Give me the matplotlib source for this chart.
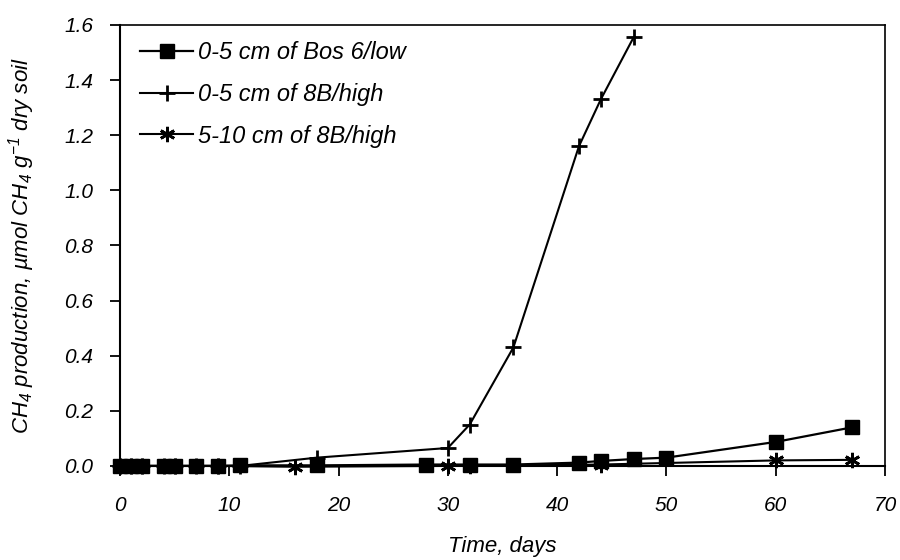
import matplotlib.pyplot as plt

plt.rcParams['font.family'] = ['Liberation Sans', 'DejaVu Sans']
plt.rcParams['font.style'] = 'italic'
plt.rcParams['mathtext.fontset'] = 'custom'
plt.rcParams['mathtext.it'] = 'Liberation Sans:italic'
plt.rcParams['mathtext.rm'] = 'Liberation Sans:italic'

# 0-5 cm of Bos 6/low
bos_days = [0, 1, 2, 4, 5, 7, 9, 11, 18, 28, 32, 36, 42, 44, 47, 50, 60, 67]
bos_ch4 = [0, 0, 0, 0, 0, 0, 0, 0.002, 0.002, 0.005, 0.005, 0.005, 0.012, 0.018, 0.025, 0.03, 0.087, 0.14]

# 0-5 cm of 8B/high
hi_days = [0, 1, 2, 4, 5, 7, 9, 11, 18, 30, 32, 36, 42, 44, 47]
hi_ch4 = [0, 0, 0, 0, 0, 0, 0, 0, 0.03, 0.065, 0.15, 0.43, 1.16, 1.33, 1.555]

# 5-10 cm of 8B/high
deep_days = [0, 1, 2, 5, 9, 16, 30, 32, 44, 60, 67]
deep_ch4 = [0, 0, 0, 0, 0, -0.003, 0, 0, 0.005, 0.02, 0.022]

fig = plt.figure(figsize=(9, 5.6), dpi=100)
ax = fig.add_axes([0.1333, 0.168, 0.85, 0.7875])

ax.plot(bos_days, bos_ch4, color='black', lw=1.6, marker='s', ms=9.5,
        label='0-5 cm of Bos 6/low', clip_on=False, zorder=3)
ax.plot(hi_days, hi_ch4, color='black', lw=1.5, marker='+', ms=12, mew=2,
        label='0-5 cm of 8B/high', clip_on=False, zorder=3)
ax.plot(deep_days, deep_ch4, color='black', lw=1.5, marker=(6, 2, 0), ms=11, mew=2,
        label='5-10 cm of 8B/high', clip_on=False, zorder=3)

ax.set_xlim(0, 70)
ax.set_ylim(0, 1.6)
ax.set_xticks(range(0, 71, 10))
ax.set_yticks([i * 0.2 for i in range(9)])
ax.set_yticklabels(['%.1f' % (i * 0.2) for i in range(9)])
ax.tick_params(direction='out', length=7, width=1.3, labelsize=15)
ax.tick_params(axis='x', pad=15)
ax.tick_params(axis='y', pad=12)
for s in ax.spines.values():
    s.set_linewidth(1.5)
ax.spines['top'].set_linewidth(1.2)
ax.spines['right'].set_linewidth(1.2)

ax.set_xlabel('Time, days', fontsize=16, labelpad=15)
ax.set_ylabel(r'CH$_4$ production, µmol CH$_4$ g$^{-1}$ dry soil', fontsize=16, labelpad=20)

ax.legend(loc='upper left', bbox_to_anchor=(0.014, 0.985), borderaxespad=0,
          frameon=False, fontsize=17, handlelength=2.25,
          handletextpad=0.2, labelspacing=0.8)

fig.savefig('out.png', dpi=100)
